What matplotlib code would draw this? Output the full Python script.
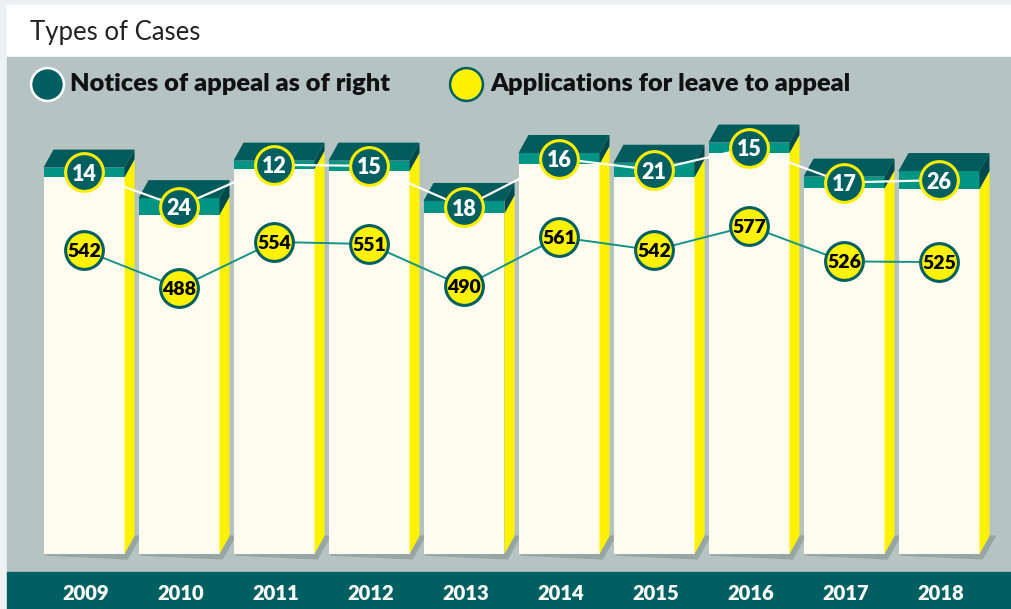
import numpy as np
import matplotlib
matplotlib.use('Agg')
from matplotlib import pyplot as plt
from matplotlib.patches import Polygon, Rectangle

plt.rcParams['font.family'] = ['Lato', 'DejaVu Sans']

years = ['2009', '2010', '2011', '2012', '2013', '2014', '2015', '2016', '2017', '2018']
notices = [14, 24, 12, 15, 18, 16, 21, 15, 17, 26]
applications = [542, 488, 554, 551, 490, 561, 542, 577, 526, 525]

# colours
outer = '#edf1f2'
panel = '#b5c4c3'
band = '#005f60'
cream = '#fffbef'
yellow = '#fff200'
teal = '#009485'
teal_top = '#005b5c'
teal_side = '#004849'
shadow = '#97a5a5'

W, H = 1011, 609
fig = plt.figure(figsize=(W / 100, H / 100), dpi=100)
fig.patch.set_facecolor(outer)
ax = fig.add_axes([0, 0, 1, 1])
ax.set_axis_off()

# 95 px per bar, 0.695 px per case, baseline 554 px from the top
px_x, px_y = 95.0, 0.695
x0, y0 = 84.0, 554.0
ax.set_xlim(-x0 / px_x, (W - x0) / px_x)
ax.set_ylim(-(H - y0) / px_y, y0 / px_y)

# background blocks (figure fractions)
ax.add_patch(Rectangle((7 / W, 1 - 57 / H), 1, 52 / H, transform=ax.transAxes,
                       color='white', zorder=0))
ax.add_patch(Rectangle((7 / W, 1 - 572 / H), 1, 515 / H, transform=ax.transAxes,
                       color=panel, zorder=0))
ax.add_patch(Rectangle((7 / W, 0), 1, 37 / H, transform=ax.transAxes,
                       color=band, zorder=0))

ax.text(30 / W, 1 - 40 / H, 'Types of Cases', transform=ax.transAxes,
        fontsize=18.5, fontweight='normal', color='#222222', va='baseline')

# legend
ax.scatter([47 / W], [1 - 84 / H], s=560, color=band, edgecolor='white',
           linewidth=1.8, transform=ax.transAxes, zorder=5)
ax.text(70 / W, 1 - 91 / H, 'Notices of appeal as of right', transform=ax.transAxes,
        fontsize=18.3, fontweight='heavy', color='#111111', va='baseline')
ax.scatter([466 / W], [1 - 84 / H], s=560, color=yellow, edgecolor=band,
           linewidth=1.8, transform=ax.transAxes, zorder=5)
ax.text(490 / W, 1 - 91 / H, 'Applications for leave to appeal', transform=ax.transAxes,
        fontsize=18.2, fontweight='heavy', color='#111111', va='baseline')

# 3d bars
w = 81 / px_x
dx = 10 / px_x
dy = 18 / px_y
xs = np.arange(len(years))
for i, (n, a) in enumerate(zip(notices, applications)):
    xl, xr = i - w / 2, i + w / 2
    t = a + n
    ax.add_patch(Polygon([(xl + 0.02, -1.5), (xr + 0.03, -7), (xr + dx + 0.06, dy),
                          (xr + dx, dy), (xr, 0)], closed=True, color=shadow, zorder=1))
    ax.add_patch(Rectangle((xl, 0), w, a, color=cream, zorder=2, lw=0))
    ax.add_patch(Rectangle((xl, a), w, n, color=teal, zorder=2, lw=0))
    ax.add_patch(Polygon([(xr, 0), (xr + dx, dy), (xr + dx, a + dy), (xr, a)],
                         closed=True, color=yellow, zorder=2, lw=0))
    ax.add_patch(Polygon([(xr, a), (xr + dx, a + dy), (xr + dx, t + dy), (xr, t)],
                         closed=True, color=teal_side, zorder=2, lw=0))
    ax.add_patch(Polygon([(xl, t), (xl + dx, t + dy), (xr + dx, t + dy), (xr, t)],
                         closed=True, color=teal_top, zorder=2, lw=0))

# connecting lines and value circles
notice_y = np.array(applications) + np.array(notices) / 2
app_y = np.array(applications) - 105
ax.plot(xs, notice_y, color='white', lw=1.6, zorder=3)
ax.plot(xs, app_y, color='#13938a', lw=1.4, zorder=3)
ax.scatter(xs, notice_y, s=740, color=band, edgecolor='#ffee00', linewidth=2.2, zorder=4)
ax.scatter(xs, app_y, s=740, color=yellow, edgecolor=band, linewidth=2.2, zorder=4)
for i in xs:
    ax.text(i, notice_y[i], str(notices[i]), color='white', fontsize=15.5,
            fontweight='heavy', ha='center', va='center_baseline', zorder=5)
    ax.text(i, app_y[i], str(applications[i]), color='black', fontsize=14,
            fontweight='heavy', ha='center', va='center_baseline', zorder=5)

# year labels in the bottom band
for i, yr in enumerate(years):
    ax.text(i + 0.02, 1 - 594 / H, yr, transform=ax.get_xaxis_transform(),
            color='white', fontsize=14.5, fontweight='heavy', ha='center', va='center')

fig.savefig('out.png', dpi=100, facecolor=fig.get_facecolor())
